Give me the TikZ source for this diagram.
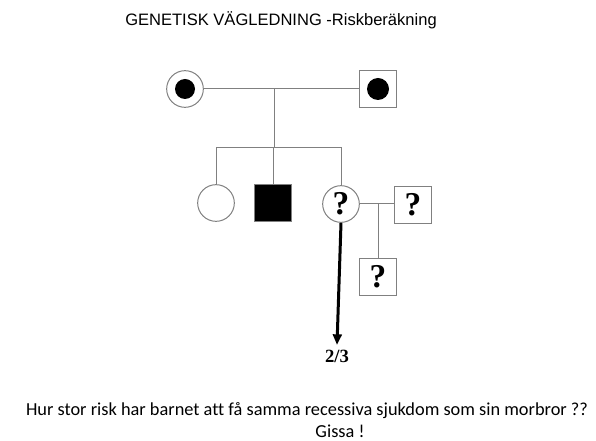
\documentclass[tikz,border=0pt]{standalone}
\usepackage{fontspec}
\setmainfont{Liberation Serif}
\newfontfamily\rubrikfont{Liberation Sans}
\newfontfamily\fragefont[Ligatures=NoCommon]{Carlito}
\usetikzlibrary{arrows.meta}

\begin{document}
\begin{tikzpicture}[x=0.75pt,y=-0.75pt]
	\tikzstyle{every node}=[font=\bfseries]
	\tikzstyle{linje}=[draw={rgb,255:red,128; green,128; blue,128}, line width=0.75pt]
	\tikzstyle{kvinna}=[circle, linje, fill=white, minimum size=27.5pt, inner sep=0pt, font=\fontsize{25}{25}\bfseries\selectfont]
	\tikzstyle{man}=[rectangle, linje, fill=white, minimum size=28pt, inner sep=0pt, font=\fontsize{25}{25}\bfseries\selectfont]
	\tikzstyle{prick}=[circle, fill=black, inner sep=0pt]
	\tikzstyle{fraga}=[font=\fragefont\fontsize{13.75}{16}\selectfont, inner sep=0pt]
	\useasboundingbox (0,0) rectangle (596,441);
	% rubrik
	\node [font=\rubrikfont\fontsize{12.4}{15}\selectfont] (rubrik) at (281,20) {GENETISK VÄGLEDNING -Riskberäkning};
	% generation I
	\node [kvinna] (mormor) at (185,89) {};
	\node [prick, minimum size=15pt] (mormorprick) at (mormor) {};
	\node [man] (morfar) at (378,89) {};
	\node [prick, minimum size=16.5pt] (morfarprick) at (morfar) {};
	\draw [linje] (mormor) -- (morfar);
	\coordinate (par1) at (274,89);
	\coordinate (syskon) at (274,148);
	\draw [linje] (par1) -- (syskon);
	% generation II
	\node [kvinna] (moster) at (216,203) {};
	\node [man, fill=black] (morbror) at (273,203) {};
	\node [kvinna] (mor) at (341,204) {?};
	\node [man] (far) at (413,205) {?};
	\draw [linje] (moster.north) -- (moster.north |- syskon) -- (mor.north |- syskon) -- (mor.north);
	\draw [linje] (morbror.north) -- (morbror.north |- syskon);
	\draw [linje] (mor) -- (far.west |- mor);
	% generation III
	\node [man] (barn) at (378,277) {?};
	\draw [linje] (barn.north) -- (barn.north |- mor.east);
	\node [font=\fontsize{14}{14}\bfseries\selectfont] (risk) at (337,356) {2/3};
	\draw [line width=2.25pt, -{Triangle[length=8pt, width=6.5pt]}] (mor.south) -- (risk.north);
	% fråga
	\node [fraga] (fraga1) at (307,411) {Hur stor risk har barnet att få samma recessiva sjukdom som sin morbror ??};
	\node [fraga] (fraga2) at (340,431) {Gissa !};
\end{tikzpicture}
\end{document}
